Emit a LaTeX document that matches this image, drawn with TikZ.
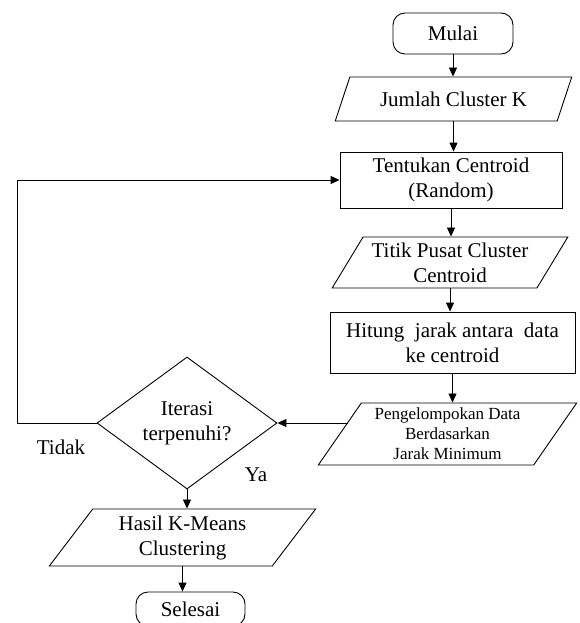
\documentclass[tikz,border=0pt]{standalone}
\usepackage{fontspec}
\setmainfont{Liberation Serif}
\usetikzlibrary{shapes.geometric,arrows.meta}
\tikzset{
  base/.style={draw, line width=0.9pt, font=\fontsize{21}{25}\selectfont, align=center, inner sep=0pt},
  term/.style={base, rectangle, rounded corners=12pt},
  proc/.style={base, rectangle},
  para/.style={base, trapezium, trapezium left angle=55, trapezium right angle=125, trapezium stretches=true},
  dec/.style={base, diamond},
  arr/.style={line width=0.9pt, -{Triangle[length=9pt,width=8pt]}},
  lbl/.style={font=\fontsize{21}{25}\selectfont, inner sep=0pt}
}
\begin{document}
\begin{tikzpicture}[x=1pt,y=-1pt]
\useasboundingbox (0,0) rectangle (579,623);
\clip (0,0) rectangle (579,623);
\node[term, minimum width=120pt, minimum height=41pt] (mulai) at (453,33.5) {Mulai};
\node[para, minimum width=237pt, minimum height=44pt] (jumlah) at (453.5,99) {Jumlah Cluster K};
\node[proc, minimum width=222pt, minimum height=56pt] (tentukan) at (451,180) {Tentukan Centroid\\(Random)};
\node[para, minimum width=236pt, minimum height=51pt] (titik) at (450,262.5) {Titik Pusat Cluster\\Centroid};
\node[proc, minimum width=245pt, minimum height=61pt] (hitung) at (452.5,342.5) {Hitung\ \ jarak antara\ \ data\\ke centroid};
\node[para, minimum width=259pt, minimum height=62pt, font=\fontsize{17}{20}\selectfont] (kelompok) at (447.5,434) {Pengelompokan Data\\Berdasarkan\\Jarak Minimum};
\node[dec, minimum width=180pt, minimum height=120pt] (iter) at (187,423) {Iterasi\\terpenuhi?};
\node[para, minimum width=267pt, minimum height=57pt] (hasil) at (182.5,537.5) {Hasil K-Means\\Clustering};
\node[term, minimum width=109pt, minimum height=34pt] (selesai) at (190.5,609) {Selesai};
\node[lbl] (tidak) at (61,447) {Tidak};
\node[lbl] (ya) at (256,475) {Ya};
\coordinate (loopL) at (17,423);
\coordinate (kelL) at (348,423);

\draw[arr] (mulai.south) -- (mulai.south |- jumlah.north);
\draw[arr] (jumlah.south) -- (jumlah.south |- tentukan.north);
\draw[arr] (tentukan.south) -- (tentukan.south |- titik.north);
\draw[arr] (titik.south) -- (titik.south |- hitung.north);
\draw[arr] (hitung.south) -- (hitung.south |- kelompok.north);
\draw[arr] (kelL) -- (iter.east);
\draw[arr] (iter.west) -- (loopL) |- (tentukan.west);
\draw[arr] (iter.south) -- (iter.south |- hasil.north);
\draw[arr] (hasil.south) -- (hasil.south |- selesai.north);
\end{tikzpicture}
\end{document}
